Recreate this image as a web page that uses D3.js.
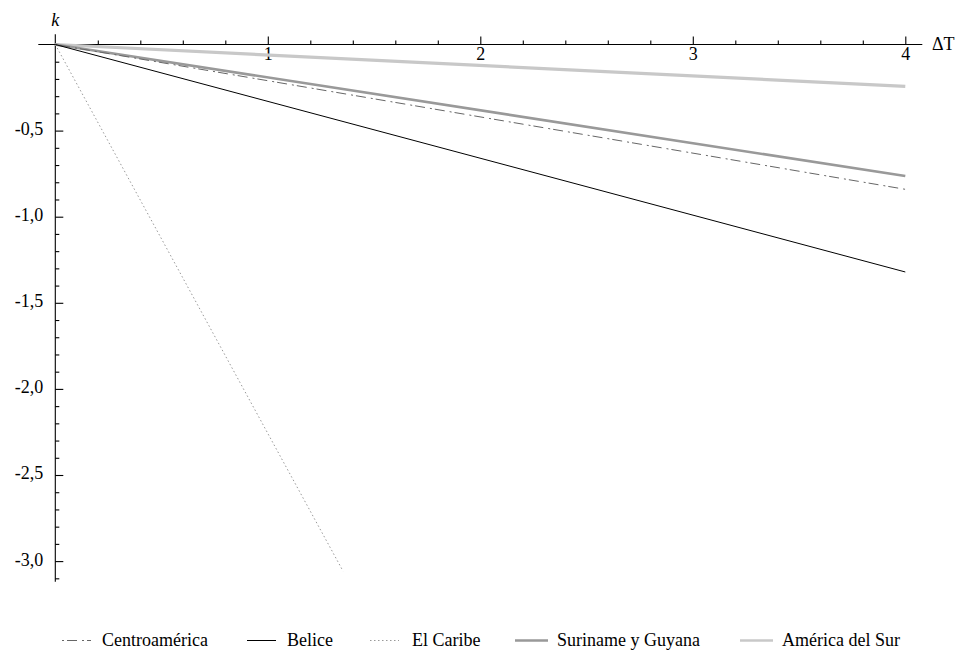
<!DOCTYPE html>
<html>
<head>
<meta charset="utf-8">
<script src="https://cdn.jsdelivr.net/npm/d3@7"></script>
<style>
  body { margin: 0; background: #fff; }
</style>
</head>
<body>
<svg width="955" height="650"></svg>
<script>
const svg = d3.select('svg');
const FONT = '"Liberation Serif", Tinos, "Times New Roman", Times, "DejaVu Serif", serif';

// data
const seriesNames = ['Centroamérica', 'Belice', 'El Caribe', 'Suriname y Guyana', 'América del Sur'];
const centroDT = [0, 4];
const centroK = [0, -0.841];
const beliceDT = [0, 4];
const beliceK = [0, -1.321];
const caribeDT = [0, 1.354];
const caribeK = [0, -3.058];
const surinameDT = [0, 4];
const surinameK = [0, -0.764];
const surDT = [0, 4];
const surK = [0, -0.243];

const xTicks = [1, 2, 3, 4];
const yTicks = [-0.5, -1.0, -1.5, -2.0, -2.5, -3.0];

const styles = {
    'Centroamérica':     { color: '#666', width: 1, dash: '2,3,10,5' },
    'Belice':            { color: '#000', width: 1, dash: null },
    'El Caribe':         { color: '#999', width: 1, dash: '1.5,2.5' },
    'Suriname y Guyana': { color: '#999', width: 2.6, dash: null },
    'América del Sur':   { color: '#c8c8c8', width: 3.2, dash: null }
};

const zip = (a, b) => a.map((v, i) => ({ t: v, k: b[i] }));
const lines = [
    { name: 'América del Sur', pts: zip(surDT, surK) },
    { name: 'Suriname y Guyana', pts: zip(surinameDT, surinameK) },
    { name: 'El Caribe', pts: zip(caribeDT, caribeK) },
    { name: 'Centroamérica', pts: zip(centroDT, centroK) },
    { name: 'Belice', pts: zip(beliceDT, beliceK) }
];

const x = d3.scaleLinear().domain([0, 4]).range([55.3, 905.3]);
const y = d3.scaleLinear().domain([0, -3]).range([44.5, 561.1]);

const fmt = v => d3.format('.1f')(v).replace('.', ',').replace('\u2212', '-');

// minor ticks
const xMinor = d3.range(1, 20).map(i => i / 5).filter(v => !Number.isInteger(v));
const yMinor = d3.range(1, 32).map(i => -i / 10).filter(v => Math.abs(v * 2 - Math.round(v * 2)) > 1e-6);

const g = svg.append('g');

g.append('g')
    .attr('transform', `translate(0,${y(0)})`)
    .call(d3.axisBottom(x).tickValues(xMinor).tickSize(-4).tickFormat(''))
    .call(s => s.select('.domain').remove());

g.append('g')
    .attr('transform', `translate(0,${y(0)})`)
    .call(d3.axisBottom(x).tickValues(xTicks).tickSize(-8).tickPadding(3).tickFormat(d3.format('d')))
    .call(s => s.select('.domain').remove())
    .call(s => s.selectAll('text').attr('font-size', 18).attr('fill', '#000'));

g.append('g')
    .attr('transform', `translate(${x(0)},0)`)
    .call(d3.axisLeft(y).tickValues(yMinor).tickSize(-4).tickFormat(''))
    .call(s => s.select('.domain').remove());

g.append('g')
    .attr('transform', `translate(${x(0)},0)`)
    .call(d3.axisLeft(y).tickValues(yTicks).tickSize(-8).tickPadding(12).tickFormat(fmt))
    .call(s => s.select('.domain').remove())
    .call(s => s.selectAll('text').attr('font-size', 18).attr('fill', '#000').attr('dy', '0.22em'));

g.selectAll('.tick line').attr('stroke', '#000').attr('stroke-width', 1.1);

// axis lines
g.append('line')
    .attr('x1', x(-0.08)).attr('x2', x(4.08))
    .attr('y1', y(0)).attr('y2', y(0))
    .attr('stroke', '#000').attr('stroke-width', 1.1);
g.append('line')
    .attr('x1', x(0)).attr('x2', x(0))
    .attr('y1', y(0.06)).attr('y2', y(-3.12))
    .attr('stroke', '#000').attr('stroke-width', 1.1);

g.append('text')
    .attr('x', x(0)).attr('y', 26)
    .attr('text-anchor', 'middle')
    .attr('font-size', 18).attr('font-style', 'italic')
    .text('k');
g.append('text')
    .attr('x', 932).attr('y', y(0) + 5)
    .attr('font-size', 18)
    .text('ΔT');

// lines
const line = d3.line().x(d => x(d.t)).y(d => y(d.k));
svg.append('g').selectAll('path')
    .data(lines)
    .enter().append('path')
        .attr('d', d => line(d.pts))
        .attr('fill', 'none')
        .attr('stroke', d => styles[d.name].color)
        .attr('stroke-width', d => styles[d.name].width)
        .attr('stroke-dasharray', d => styles[d.name].dash);

// legend
const legendX = [62, 247, 370, 515, 740];
const legend = svg.append('g').selectAll('g')
    .data(seriesNames)
    .enter().append('g')
        .attr('transform', (d, i) => `translate(${legendX[i]},640.5)`);
legend.append('line')
    .attr('x1', 0).attr('x2', (d, i) => i >= 3 ? 33 : 29)
    .attr('stroke', d => styles[d].color)
    .attr('stroke-width', d => Math.min(styles[d].width, 2.6))
    .attr('stroke-dasharray', d => styles[d].dash);
legend.append('text')
    .attr('x', (d, i) => i >= 2 ? 42 : 40)
    .attr('y', 5)
    .attr('font-size', 18)
    .text(d => d);

svg.selectAll('text').attr('font-family', FONT).style('font-family', FONT);
</script>
</body>
</html>
